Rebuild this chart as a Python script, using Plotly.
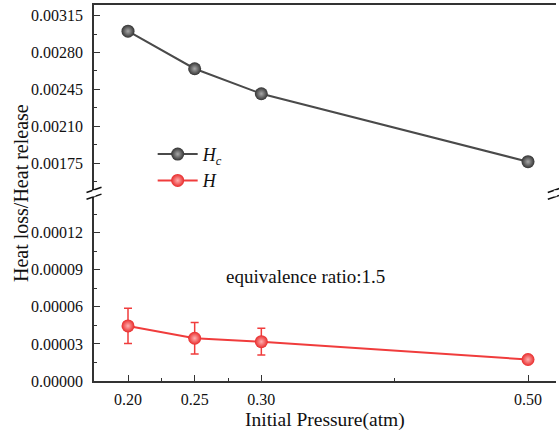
import plotly.graph_objects as go

# ---- data ----
pressure = [0.20, 0.25, 0.30, 0.50]
hc_values = [0.003002, 0.002646, 0.002409, 0.001765]
h_values = [0.0000446, 0.0000346, 0.0000318, 0.0000174]
h_errors = [0.0000143, 0.0000127, 0.0000108, 0.0000030]
x_major_ticks = [0.20, 0.25, 0.30, 0.50]
x_major_labels = ["0.20", "0.25", "0.30", "0.50"]
x_minor_ticks = [0.225, 0.275, 0.40]

FONT = "Liberation Serif, Times New Roman, serif"
AX = "#333333"
GRAY = "#4a4a4a"
RED = "#f03c3c"

fig = go.Figure()

fig.add_trace(go.Scatter(
    x=pressure, y=hc_values, xaxis="x2", yaxis="y2",
    mode="lines+markers", name="<i>H</i><sub><i>c</i></sub>",
    line=dict(color=GRAY, width=2),
    marker=dict(size=13, color="#333333",
                gradient=dict(type="radial", color="#a8a8a8"),
                line=dict(width=0)),
))
fig.add_trace(go.Scatter(
    x=pressure, y=h_values, xaxis="x", yaxis="y",
    mode="lines+markers", name="<i>H</i>",
    line=dict(color=RED, width=2),
    marker=dict(size=13, color="#e82a2a",
                gradient=dict(type="radial", color="#ffb0b0"),
                line=dict(width=0)),
    error_y=dict(type="data", array=h_errors, visible=True,
                 color=RED, thickness=1.5, width=4),
))
# empty trace to carry the minor-tick overlay axis
fig.add_trace(go.Scatter(x=[None], y=[None], xaxis="x3", yaxis="y",
                         showlegend=False, hoverinfo="skip"))

xr = [0.1745, 0.521]
tickfont = dict(family=FONT, size=16, color="#111111")

fig.update_layout(
    width=559, height=434,
    margin=dict(l=94, r=3, t=5, b=53),
    paper_bgcolor="white", plot_bgcolor="white",
    font=dict(family=FONT, color="#111111"),
    showlegend=True,
    legend=dict(x=0.127, y=0.652, xanchor="left", yanchor="top",
                bgcolor="rgba(0,0,0,0)", font=dict(family=FONT, size=18),
                itemwidth=40, tracegroupgap=0),
    xaxis=dict(domain=[0, 1], anchor="y", range=xr,
               tickmode="array", tickvals=x_major_ticks, ticktext=x_major_labels,
               ticks="inside", ticklen=6, tickwidth=1.2, tickcolor=AX,
               showline=True, linecolor=AX, linewidth=1.5,
               showgrid=False, zeroline=False, tickfont=tickfont,
               ticklabelstandoff=3),
    xaxis3=dict(overlaying="x", anchor="y", range=xr,
                tickmode="array", tickvals=x_minor_ticks,
                showticklabels=False, ticks="inside", ticklen=3.5,
                tickwidth=1.2, tickcolor=AX, showline=False,
                showgrid=False, zeroline=False),
    xaxis2=dict(domain=[0, 1], anchor="y2", range=xr, side="top",
                showticklabels=False, ticks="",
                showline=True, linecolor=AX, linewidth=1.5,
                showgrid=False, zeroline=False),
    yaxis=dict(domain=[0, 0.4896], anchor="x", range=[0, 0.000149],
               tick0=0, dtick=0.00003, tickformat=".5f",
               ticks="inside", ticklen=6, tickwidth=1.2, tickcolor=AX,
               minor=dict(dtick=0.000015, ticks="inside", ticklen=3.5,
                          tickcolor=AX, tickwidth=1.2),
               showline=True, linecolor=AX, linewidth=1.5,
               showgrid=False, zeroline=False, tickfont=tickfont,
               ticklabelstandoff=6),
    yaxis2=dict(domain=[0.5088, 1], anchor="x2", range=[0.0015, 0.00325],
                tick0=0.00175, dtick=0.00035, tickformat=".5f",
                ticks="inside", ticklen=6, tickwidth=1.2, tickcolor=AX,
                minor=dict(dtick=0.000175, ticks="inside", ticklen=3.5,
                           tickcolor=AX, tickwidth=1.2),
                showline=True, linecolor=AX, linewidth=1.5,
                showgrid=False, zeroline=False, tickfont=tickfont,
                ticklabelstandoff=6),
)

# axis titles and note
fig.add_annotation(text="Heat loss/Heat release", xref="paper", yref="paper",
                   x=-0.158, y=0.5, textangle=-90, showarrow=False,
                   xanchor="center", yanchor="middle",
                   font=dict(family=FONT, size=20, color="#111111"))
fig.add_annotation(text="Initial Pressure(atm)", xref="paper", yref="paper",
                   x=0.5, y=-0.105, showarrow=False,
                   xanchor="center", yanchor="middle",
                   font=dict(family=FONT, size=19.5, color="#111111"))
fig.add_annotation(text="equivalence ratio:1.5", xref="x domain", yref="y domain",
                   x=0.458, y=0.565, showarrow=False,
                   xanchor="center", yanchor="middle",
                   font=dict(family=FONT, size=19, color="#111111"))

# axis-break marks (left and right)
mid = 0.4992
for xd in (0.0, 0.9985):
    for dy in (-3.4, 3.4):
        fig.add_shape(type="line", xref="x domain", yref="paper",
                      xsizemode="pixel", ysizemode="pixel",
                      xanchor=xd, yanchor=mid,
                      x0=-7.5, x1=7.5, y0=dy - 2.6, y1=dy + 2.6,
                      line=dict(color="#111111", width=1.5))
    fig.add_shape(type="line", xref="x domain", yref="paper",
                  xsizemode="pixel", ysizemode="pixel",
                  xanchor=xd, yanchor=mid,
                  x0=0, x1=0, y0=-3, y1=3,
                  line=dict(color="white", width=3))

fig.write_html("out.html",
               config={"displayModeBar": False},
               post_script="document.body.style.margin='0';"
                           "document.body.style.overflow='hidden';")
